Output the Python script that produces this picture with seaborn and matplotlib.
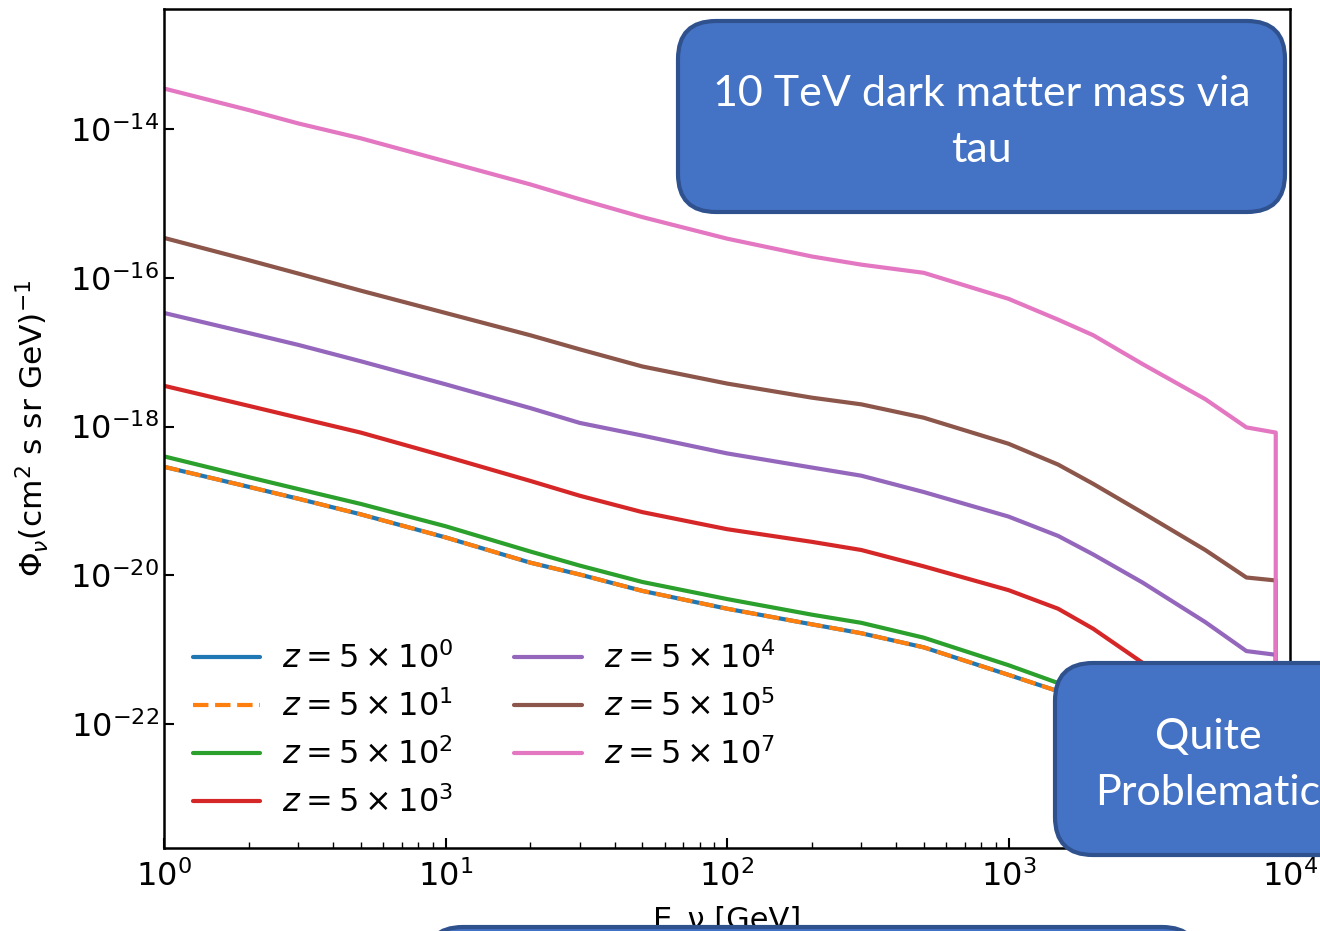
import matplotlib
matplotlib.use("Agg")
import matplotlib.pyplot as plt
from matplotlib.patches import FancyBboxPatch
from matplotlib.ticker import FixedLocator, LogLocator, LogFormatterSciNotation, NullFormatter
import numpy as np
import pandas as pd
import seaborn as sns

# Neutrino energy grid [GeV]; the repeated last point closes each spectrum at the cutoff
energy = [1, 2, 3, 5, 10, 20, 30, 50, 100, 200, 300, 500, 1000, 1500, 2000, 3000,
          5000, 7000, 8900, 8900]

# log10 of the flux for each redshift
logflux_z5e0 = [-18.54, -18.81, -18.97, -19.18, -19.49, -19.83, -19.99, -20.21, -20.45, -20.66,
                -20.78, -20.97, -21.34, -21.56, -21.77, -22.14, -22.71, -23.10, -23.17, -40.0]
logflux_z5e1 = [-18.54, -18.81, -18.97, -19.18, -19.49, -19.83, -19.99, -20.21, -20.45, -20.66,
                -20.78, -20.97, -21.34, -21.56, -21.77, -22.14, -22.71, -23.10, -23.17, -40.0]
logflux_z5e2 = [-18.40, -18.68, -18.84, -19.04, -19.34, -19.68, -19.87, -20.09, -20.32, -20.53,
                -20.64, -20.84, -21.21, -21.45, -21.66, -22.03, -22.59, -22.99, -23.05, -40.0]
logflux_z5e3 = [-17.45, -17.72, -17.88, -18.08, -18.40, -18.73, -18.93, -19.15, -19.38, -19.55,
                -19.66, -19.88, -20.20, -20.45, -20.72, -21.18, -21.76, -22.16, -22.22, -40.0]
logflux_z5e4 = [-16.47, -16.74, -16.90, -17.12, -17.43, -17.75, -17.95, -18.12, -18.36, -18.55,
                -18.66, -18.88, -19.21, -19.47, -19.72, -20.10, -20.63, -21.02, -21.07, -40.0]
logflux_z5e5 = [-15.46, -15.76, -15.94, -16.17, -16.47, -16.77, -16.96, -17.19, -17.42, -17.61,
                -17.70, -17.88, -18.23, -18.51, -18.77, -19.16, -19.66, -20.03, -20.07, -40.0]
logflux_z5e7 = [-13.45, -13.74, -13.92, -14.12, -14.43, -14.74, -14.94, -15.18, -15.47, -15.71,
                -15.82, -15.93, -16.28, -16.56, -16.77, -17.16, -17.63, -18.01, -18.08, -40.0]

labels = [r"$z = 5 \times 10^{0}$", r"$z = 5 \times 10^{1}$", r"$z = 5 \times 10^{2}$",
          r"$z = 5 \times 10^{3}$", r"$z = 5 \times 10^{4}$", r"$z = 5 \times 10^{5}$",
          r"$z = 5 \times 10^{7}$"]
series = [logflux_z5e0, logflux_z5e1, logflux_z5e2, logflux_z5e3,
          logflux_z5e4, logflux_z5e5, logflux_z5e7]
colors = ["#1f77b4", "#ff7f0e", "#2ca02c", "#d62728", "#9467bd", "#8c564b", "#e377c2"]
styles = ["-", "--", "-", "-", "-", "-", "-"]

x_ticks = [1, 10, 100, 1000, 10000]
y_ticks = [1e-22, 1e-20, 1e-18, 1e-16, 1e-14]

sns.set_style("ticks", {"xtick.direction": "in", "ytick.direction": "in",
                        "axes.edgecolor": "black", "xtick.color": "black",
                        "ytick.color": "black", "text.color": "black",
                        "axes.labelcolor": "black"})
plt.rcParams["font.family"] = ["DejaVu Sans"]
plt.rcParams["mathtext.fontset"] = "dejavusans"

fig = plt.figure(figsize=(13.2, 9.31), dpi=100)
ax = fig.add_axes([164 / 1320, 1 - 848 / 931, (1290 - 164) / 1320, (848 - 9) / 931])

for lab, vals, col, ls in zip(labels, series, colors, styles):
    df = pd.DataFrame({"E": energy, "flux": np.power(10.0, vals)})
    sns.lineplot(data=df, x="E", y="flux", ax=ax, color=col, linestyle=ls,
                 linewidth=3, label=lab, sort=False, estimator=None)

ax.set_xscale("log")
ax.set_yscale("log")
ax.set_xlim(1, 1e4)
ax.set_ylim(10 ** -23.67, 10 ** -12.38)
ax.yaxis.set_major_locator(FixedLocator(y_ticks))
ax.yaxis.set_major_formatter(LogFormatterSciNotation())
ax.yaxis.set_minor_locator(FixedLocator([]))
ax.yaxis.set_minor_formatter(NullFormatter())
ax.xaxis.set_major_locator(FixedLocator(x_ticks))
ax.xaxis.set_major_formatter(LogFormatterSciNotation())
ax.xaxis.set_minor_locator(LogLocator(base=10.0, subs=np.arange(2, 10), numticks=20))
ax.xaxis.set_minor_formatter(NullFormatter())

for s in ax.spines.values():
    s.set_linewidth(1.8)
    s.set_visible(True)
ax.tick_params(which="major", length=7, width=1.5, labelsize=23, direction="in",
               top=False, right=False)
ax.tick_params(which="minor", length=4, width=1.0, direction="in", top=False, right=False)
ax.tick_params(axis="x", which="major", pad=9)

ax.set_xlabel("E_ν [GeV]", fontsize=22, labelpad=9)
ax.set_ylabel(r"$\Phi_\nu$(cm$^2$ s sr GeV)$^{-1}$", fontsize=22.5, labelpad=14)

ax.legend(loc="lower left", ncol=2, frameon=False, fontsize=23, handlelength=2.1,
          columnspacing=1.9, labelspacing=0.48, handletextpad=0.7,
          borderaxespad=0.5, bbox_to_anchor=(0.0, 0.0))

# Annotation callouts laid over the plot, in inches from the lower-left corner
box_face = "#4472C4"
box_edge = "#2F528F"
callouts = [
    ((6.78, 7.19, 6.07, 1.91), "10 TeV dark matter mass via\ntau", (9.815, 8.09)),
    ((10.55, 0.76, 3.06, 1.92), "Quite\nProblematic", (12.08, 1.66)),
    ((4.25, -1.89, 7.75, 1.93), "", (8.0, -1.0)),
]
for (x0, y0, w, h), txt, (tx, ty) in callouts:
    patch = FancyBboxPatch((x0, y0), w, h, boxstyle="round,pad=0,rounding_size=0.38",
                           transform=fig.dpi_scale_trans, facecolor=box_face,
                           edgecolor=box_edge, linewidth=3, zorder=10)
    fig.add_artist(patch)
    if txt:
        fig.text(tx, ty, txt, transform=fig.dpi_scale_trans, ha="center", va="center",
                 color="white", fontsize=31, family=["Lato", "DejaVu Sans"],
                 linespacing=1.55, zorder=11)

fig.savefig("out.png", dpi=100)
